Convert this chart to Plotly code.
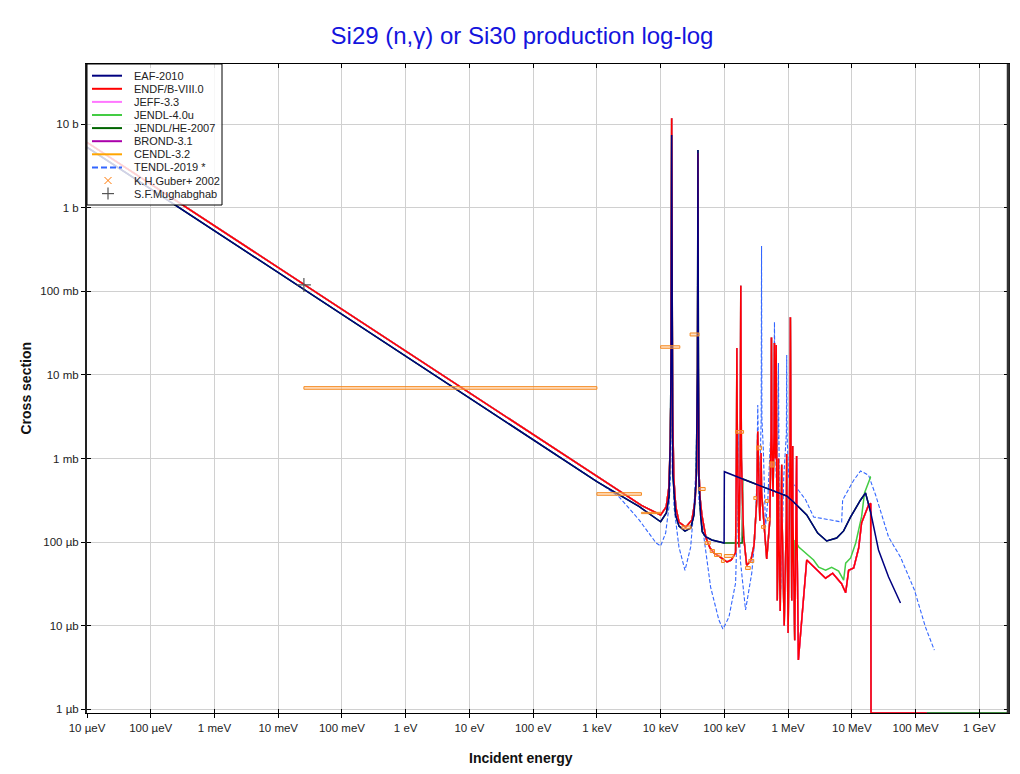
import plotly.graph_objects as go

# ---------------- axis settings ----------------
X_RANGE = [-5.0, 9.45]     # log10(eV)
Y_RANGE = [-6.044, 1.718]  # log10(b)

X_TICKS = [1e-5, 1e-4, 1e-3, 1e-2, 1e-1, 1e0, 1e1, 1e2, 1e3, 1e4, 1e5, 1e6, 1e7, 1e8, 1e9]
X_LABELS = ["10 µeV", "100 µeV", "1 meV", "10 meV", "100 meV", "1 eV", "10 eV", "100 eV",
            "1 keV", "10 keV", "100 keV", "1 MeV", "10 MeV", "100 MeV", "1 GeV"]
Y_TICKS = [1e-6, 1e-5, 1e-4, 1e-3, 1e-2, 1e-1, 1e0, 1e1]
Y_LABELS = ["1 µb", "10 µb", "100 µb", "1 mb", "10 mb", "100 mb", "1 b", "10 b"]

# ---------------- evaluated data (E in eV, sigma in barns) ----------------
EAF_E = [1e-5, 1e3, 4.63e3, 1.0e4, 1.23e4, 1.35e4, 1.42e4, 1.46e4, 1.49e4, 1.52e4, 1.55e4,
         1.72e4, 1.94e4, 2.41e4, 2.96e4, 3.33e4, 3.62e4, 3.78e4, 3.85e4, 3.92e4, 3.98e4,
         4.24e4, 4.49e4, 5.07e4, 6.36e4, 9.9e4, 1.0e5, 1.94e5, 9.5e5, 1.22e6, 1.96e6,
         2.91e6, 4.03e6, 5.78e6, 7.43e6, 9.57e6, 1.37e7, 1.64e7, 1.97e7, 2.62e7, 3.77e7, 5.8e7]
EAF_S = [5.28, 5.3e-4, 2.65e-4, 1.75e-4, 2.23e-4, 3.47e-4, 1.66e-3, 2.0e-2, 7.4, 1.5e-2, 6.7e-4,
         2.1e-4, 1.55e-4, 1.35e-4, 1.47e-4, 2.1e-4, 5.8e-4, 1.2e-2, 4.9, 1.2e-2, 5.8e-4,
         2.1e-4, 1.33e-4, 1.16e-4, 1.06e-4, 9.75e-5, 6.95e-4, 5.69e-4, 3.56e-4, 3.02e-4, 2.11e-4,
         1.28e-4, 1.03e-4, 1.12e-4, 1.36e-4, 2.0e-4, 3.19e-4, 3.87e-4, 2.29e-4, 8.05e-5, 3.83e-5, 1.87e-5]

ENDF_E = [1e-5, 1e3, 5e3, 1.0e4, 1.22e4, 1.35e4, 1.42e4, 1.45e4, 1.49e4, 1.54e4, 1.61e4,
          1.73e4, 1.94e4, 2.47e4, 3.1e4, 3.48e4, 3.69e4, 3.8e4, 3.85e4, 3.9e4, 3.98e4,
          4.14e4, 4.44e4, 5.15e4, 5.96e4, 6.9e4, 8.96e4, 1.1e5, 1.28e5, 1.5e5, 1.55e5,
          1.57e5, 1.6e5, 1.69e5, 1.77e5, 1.81e5, 1.85e5, 2.0e5, 2.24e5, 2.6e5, 2.92e5,
          3.22e5, 3.34e5, 3.45e5, 3.6e5, 3.72e5, 3.77e5, 3.83e5, 4.0e5, 4.62e5, 5.16e5,
          5.4e5, 5.48e5, 5.56e5, 5.8e5, 6.0e5, 6.1e5, 6.28e5, 6.5e5, 6.63e5, 6.76e5,
          7.0e5, 7.05e5, 7.1e5, 7.52e5, 7.85e5, 7.94e5, 8.03e5, 8.68e5, 9.4e5, 9.51e5,
          9.62e5, 1.0e6, 1.07e6, 1.086e6, 1.1e6, 1.14e6, 1.17e6, 1.18e6, 1.19e6, 1.27e6,
          1.35e6, 1.36e6, 1.37e6, 1.45e6, 1.96e6, 3.02e6, 3.88e6, 5.0e6, 6.9e6, 8.0e6,
          8.9e6, 1.07e7, 1.28e7, 1.42e7, 1.83e7, 1.98e7, 2.0e7, 1.5e8]
ENDF_S = [6.04, 6.04e-4, 2.75e-4, 2.11e-4, 2.63e-4, 4.58e-4, 1.66e-3, 6.6e-3, 11.7, 4.1e-3, 5.8e-4,
          2.63e-4, 1.74e-4, 1.51e-4, 1.84e-4, 3.19e-4, 7.9e-4, 1.0e-2, 4.5, 1.0e-2, 7.9e-4,
          3.47e-4, 2.1e-4, 1.12e-4, 8.5e-5, 7.4e-5, 6.46e-5, 5.78e-5, 6.1e-5, 7.5e-5, 1.5e-3,
          2.1e-2, 1.5e-3, 8.7e-5, 1.0e-3, 0.116, 1.0e-3, 1.2e-4, 5.3e-5, 6.0e-5, 9.2e-5,
          3.16e-4, 2.1e-3, 4.0e-4, 1.8e-4, 4.0e-4, 1.16e-3, 4.0e-4, 2.5e-4, 6.28e-5, 1.8e-4,
          2.0e-3, 2.8e-2, 2.0e-3, 3.5e-4, 2.0e-3, 2.4e-2, 1.0e-3, 2.28e-2, 1.0e-3, 2.0e-5,
          2.0e-4, 1.0e-3, 2.0e-4, 1.5e-5, 2.0e-4, 8.4e-4, 2.0e-4, 1.0e-5, 2.0e-4, 1.13e-3,
          2.0e-4, 8.2e-6, 1.0e-3, 4.89e-2, 1.0e-3, 2.0e-5, 2.0e-4, 1.41e-3, 2.0e-4, 6.7e-6,
          2.0e-4, 1.07e-3, 2.0e-4, 3.9e-6, 6.1e-5, 4.38e-5, 3.7e-5, 4.25e-5, 3.18e-5, 2.48e-5,
          4.6e-5, 4.9e-5, 8.5e-5, 1.69e-4, 2.78e-4, 2.9e-4, 0.0, 0.0]

JENDL4_HIGH_E = [1.28e6, 1.47e6, 2.51e6, 3.02e6, 3.88e6, 4.82e6, 6.2e6, 7.43e6, 8.0e6, 9.57e6,
                 1.15e7, 1.42e7, 1.58e7, 1.97e7, 2.0e7]
JENDL4_HIGH_S = [1.06e-4, 8.7e-5, 6.1e-5, 5.0e-5, 4.6e-5, 5.0e-5, 4.5e-5, 3.5e-5, 5.6e-5, 6.46e-5,
                 9.75e-5, 2.0e-4, 3.87e-4, 6.0e-4, 6.0e-4]

JENDLHE_MID_E = [1.9e5, 1.94e5]
JENDLHE_MID_S = [9.75e-5, 5.69e-4]
JENDLHE_TAIL_E = [2.0e7, 3.0e9]
JENDLHE_TAIL_S = [0.0, 0.0]

TENDL_E = [1e-5, 1.09e3, 2.23e3, 4.6e3, 8.5e3, 1.0e4, 1.2e4, 1.35e4, 1.44e4, 1.47e4, 1.49e4,
           1.51e4, 1.55e4, 1.62e4, 1.94e4, 2.41e4, 2.96e4, 3.33e4, 3.59e4, 3.8e4, 3.85e4,
           3.9e4, 3.98e4, 4.78e4, 6.08e4, 8.2e4, 9.5e4, 1.18e5, 1.5e5, 1.6e5, 1.65e5,
           1.7e5, 1.78e5, 2.15e5, 2.69e5, 3.0e5, 3.23e5, 3.34e5, 3.53e5, 3.78e5, 3.83e5,
           3.88e5, 4.09e5, 4.42e5, 4.8e5, 5.29e5, 6.0e5, 6.11e5, 6.22e5, 6.51e5, 6.95e5,
           7.05e5, 7.15e5, 7.66e5, 8.53e5, 9.4e5, 9.51e5, 9.62e5, 1.02e6, 1.47e6, 1.89e6,
           2.51e6, 4.32e6, 6.92e6, 7.17e6, 1.07e7, 1.37e7, 1.83e7, 2.36e7, 3.77e7, 5.8e7,
           9.6e7, 1.43e8, 1.97e8]
TENDL_S = [5.28, 5.1e-4, 3.47e-4, 1.84e-4, 9.75e-5, 8.97e-5, 1.29e-4, 2.63e-4, 6.7e-4, 1.0e-2, 5.0,
           1.0e-2, 1.5e-3, 2.63e-4, 8.7e-5, 4.6e-5, 8.7e-5, 2.63e-4, 7.9e-4, 1.0e-2, 4.0,
           1.0e-2, 3.19e-4, 1.06e-4, 2.9e-5, 1.17e-5, 9.1e-6, 1.27e-5, 3.24e-5, 2.0e-4, 2.0e-3,
           2.0e-4, 6.1e-5, 1.54e-5, 4.26e-5, 1.06e-4, 5.5e-4, 4.36e-3, 3.19e-4, 3.0e-3, 0.348,
           3.0e-3, 1.26e-3, 1.51e-4, 3.19e-4, 1.66e-3, 6.0e-3, 4.3e-2, 6.0e-3, 5.8e-4, 2.0e-3,
           1.39e-2, 2.0e-3, 2.67e-5, 5.8e-4, 2.0e-3, 1.73e-2, 2.0e-3, 6.0e-4, 4.2e-4, 3.19e-4,
           2.0e-4, 1.84e-4, 1.74e-4, 3.19e-4, 5.5e-4, 7.1e-4, 6.3e-4, 3.66e-4, 1.15e-4, 6.6e-5,
           2.67e-5, 9.6e-6, 5.1e-6]

# ---------------- experimental data ----------------
GUBER_ELO = [0.0253, 1e3, 5e3, 1e4, 2.16e4, 2.9e4, 4.0e4, 5e4, 6e4, 7e4, 9e4, 1e5, 1.5e5,
             2.15e5, 2.42e5, 2.9e5, 3.2e5, 3.82e5, 4.4e5, 4.7e5, 5.2e5]
GUBER_EHI = [1e3, 5e3, 1e4, 2e4, 2.99e4, 4.0e4, 5.0e4, 6e4, 7e4, 9e4, 1e5, 1.4e5, 2e5,
             2.55e5, 2.89e5, 3.2e5, 3.82e5, 4.4e5, 4.9e5, 5.2e5, 6.0e5]
GUBER_SLO = [6.73e-3, 3.63e-4, 2.19e-4, 2.08e-2, 1.44e-4, 2.92e-2, 4.14e-4, 9.35e-5, 7.5e-5, 6.73e-5,
             5.7e-5, 6.55e-5, 2.0e-3, 4.7e-5, 5.7e-5, 3.23e-4, 1.27e-3, 1.46e-4, 2.98e-4, 1.8e-4, 7.9e-4]
GUBER_SHI = [7.23e-3, 3.9e-4, 2.27e-4, 2.23e-2, 1.56e-4, 3.17e-2, 4.5e-4, 1.02e-4, 8.15e-5, 7.3e-5,
             6.2e-5, 7.1e-5, 2.16e-3, 5.1e-5, 6.2e-5, 3.5e-4, 1.41e-3, 1.58e-4, 3.23e-4, 1.95e-4, 9.1e-4]

MUGHAB_E = [0.0253]
MUGHAB_S = [0.119]

# ---------------- derived series ----------------
FLOOR = 10 ** Y_RANGE[0]


def shown(vals):
    """zero cross sections are drawn on the bottom of the log axis"""
    return [v if v > 0 else FLOOR for v in vals]


jendl4_E = [e for e in ENDF_E if e < JENDL4_HIGH_E[0]] + JENDL4_HIGH_E
jendl4_S = [s for e, s in zip(ENDF_E, ENDF_S) if e < JENDL4_HIGH_E[0]] + JENDL4_HIGH_S

jhe_E = ([e for e in EAF_E if e < 1e5] + JENDLHE_MID_E +
         [e for e in EAF_E if JENDLHE_MID_E[-1] < e < JENDLHE_TAIL_E[0]] + JENDLHE_TAIL_E)
jhe_S = ([s for e, s in zip(EAF_E, EAF_S) if e < 1e5] + JENDLHE_MID_S +
         [s for e, s in zip(EAF_E, EAF_S) if JENDLHE_MID_E[-1] < e < JENDLHE_TAIL_E[0]] + JENDLHE_TAIL_S)

box_x, box_y = [], []
for lo, hi, slo, shi in zip(GUBER_ELO, GUBER_EHI, GUBER_SLO, GUBER_SHI):
    box_x += [lo, hi, hi, lo, lo, None]
    box_y += [slo, slo, shi, shi, slo, None]

# ---------------- styles ----------------
FONT = "Liberation Sans, Arial, sans-serif"
C_EAF, C_ENDF, C_JEFF, C_J4, C_JHE = "#000080", "#ff0000", "#ff77ff", "#44cc44", "#006400"
C_BROND, C_CENDL, C_TENDL, C_GUBER, C_MUGH = "#aa00aa", "#ffa500", "#3366ff", "#ff7700", "#555555"
TENDL_DASH = "4px,2px"

fig = go.Figure()


def add_line(xs, ys, color, width=1.5, dash=None):
    fig.add_trace(go.Scatter(x=xs, y=shown(ys), mode="lines", showlegend=False,
                             line=dict(color=color, width=width, dash=dash)))


# drawing order (bottom to top)
add_line(TENDL_E, TENDL_S, C_TENDL, width=1.1, dash=TENDL_DASH)
add_line(ENDF_E, ENDF_S, C_CENDL)
add_line(ENDF_E, ENDF_S, C_BROND)
add_line(jhe_E, jhe_S, C_JHE)
add_line(jendl4_E, jendl4_S, C_J4)
add_line(ENDF_E, ENDF_S, C_JEFF)
add_line(ENDF_E, ENDF_S, C_ENDF)
add_line(EAF_E, EAF_S, C_EAF)

fig.add_trace(go.Scatter(x=box_x, y=box_y, mode="lines", fill="toself",
                         fillcolor="rgba(255,190,130,0.45)", showlegend=False, hoverinfo="skip",
                         line=dict(color="#f58a20", width=1)))
fig.add_trace(go.Scatter(x=MUGHAB_E, y=MUGHAB_S, mode="markers", showlegend=False,
                         marker=dict(symbol="cross-thin", size=10, line=dict(color=C_MUGH, width=1.2))))
# invisible trace that carries the inner (mirrored) tick marks
fig.add_trace(go.Scatter(x=[None], y=[None], xaxis="x2", yaxis="y2", showlegend=False))

# ---------------- hand-drawn legend (pixel offsets from the plot's top-left corner) ----------------
LEGEND_ITEMS = [("EAF-2010", C_EAF, "line"), ("ENDF/B-VIII.0", C_ENDF, "line"), ("JEFF-3.3", C_JEFF, "line"),
                ("JENDL-4.0u", C_J4, "line"), ("JENDL/HE-2007", C_JHE, "line"), ("BROND-3.1", C_BROND, "line"),
                ("CENDL-3.2", C_CENDL, "line"), ("TENDL-2019 *", C_TENDL, "dash"),
                ("K.H.Guber+ 2002", C_GUBER, "x"), ("S.F.Mughabghab", C_MUGH, "+")]
LEG_W, LEG_H, ROW0, ROW_STEP = 135, 141, 11.7, 13.1

shapes, annotations = [], []


def pshape(x0, y0, x1, y1, **kw):
    d = dict(xref="paper", yref="paper", xsizemode="pixel", ysizemode="pixel", xanchor=0, yanchor=1,
             x0=x0, x1=x1, y0=-y0, y1=-y1, layer="above")
    d.update(kw)
    shapes.append(d)


pshape(0, 0, LEG_W, LEG_H, type="rect", fillcolor="rgba(255,255,255,0.82)", line=dict(color="black", width=1))
for i, (name, color, kind) in enumerate(LEGEND_ITEMS):
    cy = ROW0 + ROW_STEP * i
    if kind == "line":
        pshape(5, cy, 35, cy, type="line", line=dict(color=color, width=2))
    elif kind == "dash":
        pshape(5, cy, 35, cy, type="line", line=dict(color=color, width=2, dash="6px,3px"))
    elif kind == "x":
        pshape(17.5, cy - 3.5, 24.5, cy + 3.5, type="line", line=dict(color=color, width=1))
        pshape(17.5, cy + 3.5, 24.5, cy - 3.5, type="line", line=dict(color=color, width=1))
    else:
        pshape(15, cy, 27, cy, type="line", line=dict(color=color, width=1.2))
        pshape(21, cy - 6, 21, cy + 6, type="line", line=dict(color=color, width=1.2))
    annotations.append(dict(text=name, xref="paper", yref="paper", x=0, y=1, xshift=45, yshift=-cy,
                            xanchor="left", yanchor="middle", showarrow=False,
                            font=dict(family=FONT, size=11, color="#222222")))

# thicker right frame
shapes.append(dict(type="line", xref="paper", yref="paper", x0=1, x1=1, y0=0, y1=1,
                   line=dict(color="#333333", width=2.5), layer="above"))

annotations += [
    dict(text="<b>Incident energy</b>", xref="paper", yref="paper", x=(522 - 87) / 923, y=0,
         yshift=-45, showarrow=False, font=dict(family=FONT, size=14, color="#111111"),
         xanchor="center", yanchor="middle"),
    dict(text="<b>Cross section</b>", xref="paper", yref="paper", x=0, y=0.5, xshift=-62,
         textangle=-90, showarrow=False, font=dict(family=FONT, size=14, color="#111111"),
         xanchor="center", yanchor="middle"),
]

W, H = 1012, 766
fig.update_layout(
    width=W, height=H,
    margin=dict(l=79, r=10, t=56, b=61),
    paper_bgcolor="white", plot_bgcolor="white",
    font=dict(family=FONT, size=11.5, color="#222222"),
    title=dict(text="Si29 (n,γ) or Si30 production log-log", font=dict(family=FONT, size=24, color="#1414dd"),
               xref="container", x=514 / W, xanchor="center", yref="container", y=1 - 28 / H, yanchor="middle"),
    showlegend=False,
    xaxis=dict(type="log", range=X_RANGE, tickvals=X_TICKS, ticktext=X_LABELS,
               showgrid=True, gridcolor="#d0d0d0", gridwidth=1, zeroline=False,
               showline=True, linecolor="black", linewidth=1.2, mirror=True,
               ticks="outside", ticklen=4, tickcolor="black"),
    yaxis=dict(type="log", range=Y_RANGE, tickvals=Y_TICKS, ticktext=Y_LABELS,
               showgrid=True, gridcolor="#d0d0d0", gridwidth=1, zeroline=False,
               showline=True, linecolor="#222222", linewidth=2, mirror=True,
               ticks="outside", ticklen=4, tickcolor="black"),
    xaxis2=dict(type="log", range=X_RANGE, tickvals=X_TICKS, overlaying="x", anchor="y2", side="bottom",
                showticklabels=False, showgrid=False, zeroline=False, showline=False,
                ticks="inside", ticklen=4, tickcolor="black", mirror="ticks"),
    yaxis2=dict(type="log", range=Y_RANGE, tickvals=Y_TICKS, overlaying="y", anchor="x2", side="left",
                showticklabels=False, showgrid=False, zeroline=False, showline=False,
                ticks="inside", ticklen=4, tickcolor="black", mirror="ticks"),
    shapes=shapes,
    annotations=annotations,
)

fig.write_html("out.html")
